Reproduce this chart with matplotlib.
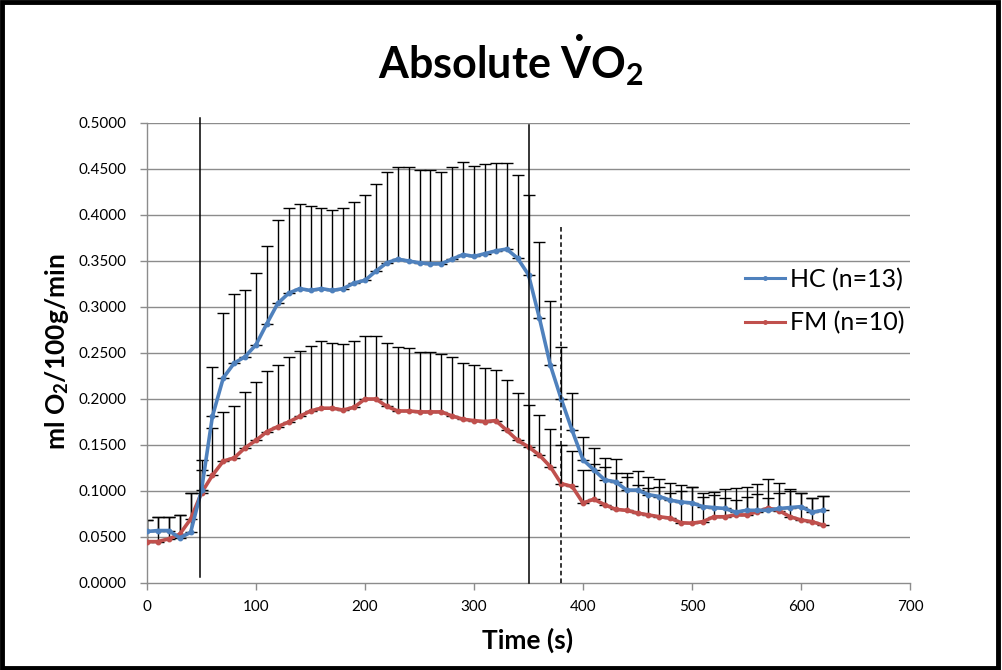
import matplotlib
matplotlib.use("Agg")
import matplotlib.pyplot as plt
from matplotlib.patches import Rectangle
from matplotlib.lines import Line2D
import numpy as np

plt.rcParams['font.family'] = ['Lato', 'DejaVu Sans']
plt.rcParams['mathtext.fontset'] = 'custom'
plt.rcParams['mathtext.rm'] = 'Lato'
plt.rcParams['mathtext.bf'] = 'Lato:bold'
plt.rcParams['mathtext.it'] = 'Lato:italic'

# ---- data ----
time_s = list(range(0, 630, 10))

hc_mean = [0.056, 0.057, 0.057, 0.049, 0.055, 0.101, 0.181, 0.223, 0.239, 0.246,
           0.259, 0.282, 0.304, 0.315, 0.320, 0.318, 0.320, 0.318, 0.320, 0.326,
           0.329, 0.339, 0.348, 0.352, 0.350, 0.348, 0.347, 0.347, 0.352, 0.357,
           0.355, 0.358, 0.361, 0.363, 0.353, 0.335, 0.288, 0.237, 0.200, 0.166,
           0.134, 0.123, 0.112, 0.110, 0.101, 0.101, 0.096, 0.094, 0.090, 0.088,
           0.087, 0.083, 0.082, 0.081, 0.077, 0.079, 0.079, 0.079, 0.081, 0.082,
           0.083, 0.077, 0.079]
hc_upper = [0.0685, 0.072, 0.072, 0.074, 0.098, 0.134, 0.235, 0.293, 0.314, 0.318,
            0.337, 0.366, 0.395, 0.408, 0.412, 0.410, 0.408, 0.405, 0.408, 0.414,
            0.422, 0.434, 0.447, 0.452, 0.452, 0.449, 0.449, 0.447, 0.452, 0.458,
            0.453, 0.455, 0.457, 0.457, 0.443, 0.422, 0.371, 0.307, 0.257, 0.206,
            0.159, 0.147, 0.136, 0.135, 0.120, 0.122, 0.1155, 0.113, 0.109, 0.1065,
            0.1047, 0.098, 0.099, 0.102, 0.103, 0.1047, 0.1076, 0.113, 0.109, 0.102,
            0.098, 0.0927, 0.0946]

fm_mean = [0.045, 0.045, 0.048, 0.053, 0.0695, 0.098, 0.117, 0.1325, 0.136, 0.147,
           0.155, 0.1645, 0.170, 0.175, 0.181, 0.187, 0.190, 0.190, 0.188, 0.191,
           0.200, 0.200, 0.192, 0.187, 0.187, 0.186, 0.186, 0.186, 0.1815, 0.178,
           0.1765, 0.1755, 0.1765, 0.166, 0.155, 0.148, 0.139, 0.1265, 0.108, 0.105,
           0.087, 0.091, 0.085, 0.080, 0.079, 0.076, 0.074, 0.072, 0.0705, 0.0655,
           0.065, 0.0667, 0.072, 0.072, 0.074, 0.074, 0.0775, 0.0815, 0.0786, 0.072,
           0.0685, 0.0667, 0.063]
fm_upper = [0.0685, 0.072, 0.072, 0.074, 0.098, 0.123, 0.168, 0.186, 0.192, 0.208,
            0.219, 0.230, 0.237, 0.246, 0.252, 0.258, 0.263, 0.261, 0.260, 0.263,
            0.269, 0.269, 0.261, 0.257, 0.255, 0.251, 0.251, 0.249, 0.246, 0.2395,
            0.237, 0.234, 0.232, 0.221, 0.2065, 0.1935, 0.1826, 0.167, 0.150, 0.144,
            0.123, 0.129, 0.126, 0.120, 0.1155, 0.1065, 0.103, 0.104, 0.098, 0.100,
            0.1047, 0.094, 0.0957, 0.092, 0.090, 0.0935, 0.0967, 0.092, 0.098, 0.100,
            0.098, 0.0927, 0.0946]

series_labels = ['HC (n=13)', 'FM (n=10)']
marker_times = [48.5, 350, 380]
marker_tops = [0.505, 0.498, 0.389]
x_ticks = [0, 100, 200, 300, 400, 500, 600, 700]
y_ticks = [0.0, 0.05, 0.10, 0.15, 0.20, 0.25, 0.30, 0.35, 0.40, 0.45, 0.50]

BLUE = '#4F81BD'
RED = '#C0504D'
GRID = '#8C8C8C'

W, H = 1002, 670
fig = plt.figure(figsize=(W/100, H/100), dpi=100)
ax = fig.add_axes([147/W, 1-583/H, (910-147)/W, (583-123)/H])

t = np.array(time_s)
hc = np.array(hc_mean)
fm = np.array(fm_mean)
hc_err = np.clip(np.array(hc_upper) - hc, 0, None)
fm_err = np.clip(np.array(fm_upper) - fm, 0, None)

for yv in y_ticks[1:]:
    ax.axhline(yv, color=GRID, lw=1.0, zorder=0)

ax.errorbar(t, hc, yerr=[np.zeros_like(hc_err), hc_err], fmt='none', ecolor='black',
            elinewidth=1.0, capsize=4, capthick=1.0, zorder=2)
ax.errorbar(t, fm, yerr=[np.zeros_like(fm_err), fm_err], fmt='none', ecolor='black',
            elinewidth=1.0, capsize=4, capthick=1.0, zorder=2)

ax.plot(t, hc, color=BLUE, lw=2.6, marker='o', ms=3.2, zorder=4)
ax.plot(t, fm, color=RED, lw=2.6, marker='o', ms=3.2, zorder=3)

# event lines
ax.plot([marker_times[0]]*2, [0.0065, marker_tops[0]], color='black', lw=1.1, clip_on=False, zorder=5)
ax.plot([marker_times[1]]*2, [0.0, marker_tops[1]], color='black', lw=1.1, clip_on=False, zorder=5)
ax.plot([marker_times[2]]*2, [0.0, marker_tops[2]], color='black', lw=1.1, ls=(0, (3, 2)), clip_on=False, zorder=5)

ax.set_xlim(0, 700)
ax.set_ylim(0, 0.5)
ax.set_xticks(x_ticks)
ax.set_yticks(y_ticks)
ax.set_yticklabels([f'{v:.4f}' for v in y_ticks])
ax.tick_params(axis='both', labelsize=11, labelcolor='black', color=GRID,
               length=5, width=1, direction='out')
ax.tick_params(axis='y', pad=10)
ax.tick_params(axis='x', pad=7)
for s in ['top', 'right']:
    ax.spines[s].set_visible(False)
for s in ['left', 'bottom']:
    ax.spines[s].set_color(GRID)
    ax.spines[s].set_linewidth(1.0)

fig.text(528/W, 1-640/H, 'Time (s)', fontsize=19, fontweight='bold', ha='center', va='center')
fig.text(57/W, 1-352/H, r'ml O$_\mathbf{2}$/100g/min', fontsize=19, fontweight='bold',
         rotation=90, ha='center', va='center')

handles = [Line2D([], [], color=BLUE, lw=2.2, marker='o', ms=2.5),
           Line2D([], [], color=RED, lw=2.2, marker='o', ms=2.5)]
fig.legend(handles, series_labels, loc='center left', bbox_to_anchor=(745/W, 1-301/H),
           frameon=False, fontsize=18, handlelength=1.6, labelspacing=0.8,
           handletextpad=0.2, borderpad=0, borderaxespad=0)

fig.text(511/W, 1-60/H, r'Absolute $\mathbf{\dot{V}O_2}$', fontsize=31, fontweight='bold',
         ha='center', va='center')

fig.patches.append(Rectangle((0.002, 0.003), 0.994, 0.994, transform=fig.transFigure,
                             fill=False, edgecolor='black', lw=3.5))

fig.savefig('out.png', dpi=100)
